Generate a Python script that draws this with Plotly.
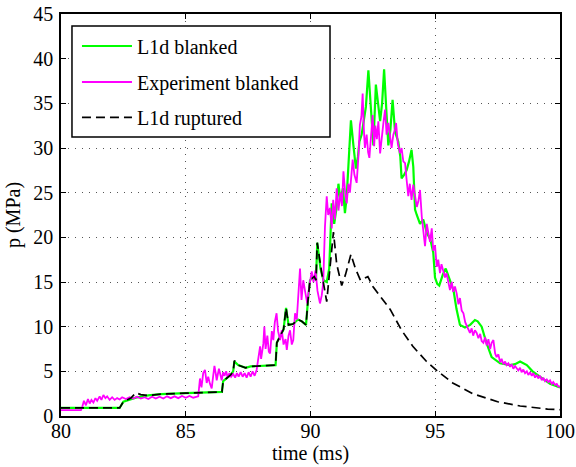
import plotly.graph_objects as go

# L1d blanked (green)
green_t = [80.0, 82.35, 82.5, 83.0, 83.5, 84.0, 85.0, 86.0, 86.45, 86.5, 86.8, 86.9, 86.95, 87.1, 87.4, 87.6,
           88.0, 88.6, 88.65, 88.8, 88.92, 89.02, 89.12, 89.3, 89.5, 89.65, 89.82, 89.9, 89.98, 90.15, 90.22,
           90.27, 90.4, 90.52, 90.65, 90.75, 90.85, 90.95, 91.05, 91.12, 91.2, 91.3, 91.38, 91.45, 91.55, 91.62,
           91.72, 91.82, 91.9, 91.96, 92.05, 92.12, 92.22, 92.32, 92.41, 92.52, 92.62, 92.72, 92.79, 92.87, 92.95,
           93.05, 93.12, 93.2, 93.29, 93.39, 93.52, 93.6, 93.65, 93.75, 93.85, 93.95, 94.05, 94.12, 94.19, 94.26,
           94.39, 94.52, 94.66, 94.8, 94.92, 94.99, 95.08, 95.16, 95.3, 95.42, 95.55, 95.73, 95.85, 95.99, 96.19,
           96.4, 96.59, 96.7, 96.86, 97.05, 97.26, 97.6, 98.0, 98.2, 98.4, 98.67, 98.9, 99.2, 99.6, 100.0]
green_p = [0.9, 0.9, 1.6, 2.05, 2.3, 2.45, 2.55, 2.65, 2.7, 3.9, 4.6, 5.0, 6.1, 5.7, 5.4, 5.55,
           5.6, 5.7, 8.2, 9.1, 9.7, 12.1, 10.2, 10.3, 10.8, 10.6, 10.2, 13.0, 15.2, 15.6, 15.2,
           19.4, 16.5, 15.2, 15.0, 16.5, 23.8, 21.5, 23.4, 26.0, 24.2, 25.5, 22.7, 24.5, 30.5, 33.1,
           30.3, 27.7, 29.0, 30.7, 31.5, 33.0, 34.6, 38.7, 34.5, 30.3, 37.1, 34.5, 33.0, 35.0, 38.8,
           33.7, 30.3, 32.0, 35.4, 31.8, 30.7, 29.0, 26.6, 27.0, 27.5, 28.5, 29.8, 27.9, 23.1, 22.5,
           21.5, 22.0, 20.5, 19.8, 18.3, 15.5, 14.8, 14.6, 15.8, 16.5, 15.5, 14.1, 12.0, 10.2, 9.9,
           10.2, 10.75, 10.6, 10.0, 8.2, 6.6, 5.9, 5.7, 5.8, 6.1, 5.7, 5.0, 4.4, 3.6, 3.2]

# Experiment blanked (magenta)
exp_t = [80.0, 80.8, 80.85, 80.92, 81.0, 81.08, 81.15, 81.22, 81.3, 81.38, 81.45, 81.55, 81.62, 81.7, 81.78,
         81.85, 81.95, 82.05, 82.15, 82.25, 82.35, 82.45, 82.6, 82.75, 82.9, 83.05, 83.2, 83.35, 83.5, 83.65,
         83.8, 83.95, 84.1, 84.25, 84.4, 84.55, 84.7, 84.85, 85.0, 85.15, 85.3, 85.5, 85.57, 85.63, 85.7,
         85.77, 85.84, 85.9, 85.97, 86.04, 86.1, 86.15, 86.2, 86.24, 86.33, 86.4, 86.44, 86.5, 86.55, 86.62,
         86.68, 86.75, 86.82, 86.9, 86.98, 87.05, 87.12, 87.2, 87.28, 87.36, 87.44, 87.52, 87.6, 87.68, 87.76,
         87.84, 87.9, 87.98, 88.02, 88.06, 88.11, 88.15, 88.2, 88.27, 88.33, 88.38, 88.45, 88.51, 88.57, 88.64,
         88.7, 88.78, 88.85, 88.92, 89.0, 89.05, 89.12, 89.18, 89.25, 89.31, 89.38, 89.45, 89.51, 89.58, 89.64,
         89.71, 89.78, 89.87, 89.95, 90.05, 90.12, 90.2, 90.28, 90.38, 90.45, 90.51, 90.58, 90.65, 90.71, 90.78,
         90.85, 90.91, 90.98, 91.05, 91.12, 91.2, 91.26, 91.32, 91.39, 91.45, 91.52, 91.58, 91.64, 91.69, 91.76,
         91.85, 91.92, 91.98, 92.04, 92.09, 92.14, 92.18, 92.25, 92.31, 92.36, 92.42, 92.49, 92.55, 92.6, 92.66,
         92.72, 92.79, 92.86, 92.93, 92.99, 93.05, 93.12, 93.19, 93.25, 93.32, 93.38, 93.43, 93.5, 93.59, 93.65,
         93.72, 93.79, 93.85, 93.92, 93.98, 94.05, 94.12, 94.19, 94.26, 94.32, 94.39, 94.46, 94.52, 94.59, 94.66,
         94.72, 94.79, 94.86, 94.92, 94.99, 95.06, 95.12, 95.19, 95.25, 95.32, 95.39, 95.45, 95.52, 95.59, 95.66,
         95.72, 95.79, 95.86, 95.93, 95.99, 96.06, 96.13, 96.2, 96.27, 96.33, 96.39, 96.46, 96.52, 96.59, 96.66,
         96.73, 96.8, 96.86, 96.93, 97.0, 97.06, 97.13, 97.2, 97.26, 97.33, 97.4, 97.46, 97.53, 97.6, 97.66,
         97.73, 97.8, 97.86, 97.93, 98.0, 98.06, 98.13, 98.2, 98.26, 98.33, 98.4, 98.46, 98.53, 98.6, 98.67,
         98.73, 98.8, 98.87, 98.93, 99.0, 99.07, 99.13, 99.2, 99.27, 99.33, 99.4, 99.47, 99.53, 99.6, 99.67,
         99.73, 99.8, 99.87, 99.93, 100.0]
exp_p = [0.65, 0.65, 1.0, 1.7, 1.2, 1.9, 1.4, 1.8, 1.5, 2.0, 1.7, 2.2, 1.8, 2.35, 2.0,
         2.2, 1.8, 2.1, 1.8, 2.0, 1.85, 2.1, 1.9, 2.1, 1.95, 2.15, 1.95, 2.1, 1.9, 2.15,
         1.95, 2.15, 1.95, 2.2, 2.0, 2.2, 2.0, 2.25, 2.05, 2.25, 2.05, 2.2, 4.2, 3.2, 4.8,
         5.15, 3.7, 4.4, 3.6, 3.1, 4.5, 5.6, 4.8, 4.0, 5.3, 4.4, 4.0, 4.9, 4.5, 5.0,
         4.3, 4.8, 4.4, 4.7, 4.3, 4.8, 4.4, 4.9, 4.4, 4.8, 4.3, 4.9, 4.4, 5.0, 4.5,
         5.15, 6.5, 7.8, 6.4, 7.2, 8.1, 10.0, 7.5, 9.0, 7.2, 7.0, 9.5, 8.5, 10.5, 11.5,
         9.5, 8.5, 9.6, 8.0, 8.6, 7.4, 9.0, 9.6, 8.0, 8.5, 11.5, 10.8, 14.1, 16.5, 13.0,
         15.2, 14.0, 12.6, 14.5, 16.2, 15.0, 16.3, 14.0, 12.6, 13.5, 14.9, 21.2, 24.6, 22.5, 23.3,
         21.0, 24.2, 22.0, 25.5, 23.0, 25.0, 23.5, 27.4, 25.0, 23.8, 26.0, 25.0, 27.0, 28.7, 27.0,
         26.1, 29.0, 32.6, 33.5, 36.1, 32.0, 30.0, 31.5, 29.5, 28.9, 31.5, 33.7, 30.2, 32.5, 31.0,
         33.0, 29.4, 31.5, 33.0, 34.3, 31.5, 32.8, 31.0, 30.0, 31.5, 32.0, 32.8, 30.5, 29.4, 30.0,
         28.5, 28.3, 26.5, 24.6, 26.0, 24.2, 25.9, 24.5, 23.4, 24.0, 25.3, 22.3, 21.0, 19.0, 21.5,
         20.5, 19.5, 21.0, 18.5, 19.1, 16.7, 17.5, 16.0, 17.0, 16.3, 15.5, 16.0, 14.8, 14.1, 15.0,
         13.9, 14.5, 13.7, 12.5, 13.2, 11.8, 11.5, 10.5, 10.0, 9.6, 9.3, 9.8, 9.0, 9.6, 9.3,
         8.7, 9.2, 8.4, 8.2, 8.8, 7.9, 8.6, 7.5, 8.2, 8.5, 7.0, 6.6, 6.9, 6.0, 6.4,
         5.8, 6.1, 5.7, 5.9, 5.5, 5.8, 5.3, 5.6, 5.4, 5.1, 5.4, 4.9, 5.2, 4.8, 5.0,
         4.6, 4.9, 4.5, 4.8, 4.3, 4.6, 4.2, 4.5, 4.0, 4.3, 3.9, 4.1, 3.8, 4.0, 3.6,
         3.8, 3.5, 3.6, 3.3, 3.3]

# L1d ruptured (black dashed)
rup_t = [80.0, 82.35, 82.5, 82.8, 83.0, 83.2, 83.5, 84.0, 85.0, 86.0, 86.45, 86.5, 86.8, 86.9, 86.95, 87.1,
         87.4, 87.6, 88.0, 88.6, 88.65, 88.8, 88.92, 89.02, 89.12, 89.3, 89.5, 89.65, 89.82, 89.9, 89.98,
         90.15, 90.22, 90.27, 90.45, 90.65, 90.8, 90.92, 91.05, 91.25, 91.4, 91.62, 91.8, 92.0, 92.15, 92.3,
         92.5, 92.8, 93.2, 93.65, 94.1, 94.65, 95.1, 95.7, 96.5, 97.5, 98.4, 99.5, 100.0]
rup_p = [0.9, 0.9, 1.6, 2.0, 2.6, 2.4, 2.3, 2.45, 2.55, 2.65, 2.7, 3.9, 4.6, 5.0, 6.2, 5.7,
         5.4, 5.55, 5.6, 5.7, 8.2, 9.1, 9.7, 12.1, 10.2, 10.3, 10.8, 10.6, 10.2, 13.0, 15.2,
         15.6, 15.2, 19.4, 16.0, 12.8, 17.0, 20.6, 17.0, 14.6, 15.8, 18.1, 16.5, 15.2, 15.4, 15.6,
         14.5, 13.4, 11.9, 9.6, 7.8, 6.1, 5.0, 3.7, 2.5, 1.6, 1.12, 0.78, 0.7]

x_ticks = [80, 85, 90, 95, 100]
y_ticks = [0, 5, 10, 15, 20, 25, 30, 35, 40, 45]

FONT = "Liberation Serif, Times New Roman, serif"

fig = go.Figure()
fig.add_trace(go.Scatter(x=green_t, y=green_p, mode="lines", name="L1d blanked",
                         line=dict(color="#00ff00", width=2.2), legend="legend"))
fig.add_trace(go.Scatter(x=exp_t, y=exp_p, mode="lines", name="Experiment blanked",
                         line=dict(color="#ff00ff", width=1.8), legend="legend2"))
fig.add_trace(go.Scatter(x=rup_t, y=rup_p, mode="lines", name="L1d ruptured",
                         line=dict(color="black", width=1.7, dash="9px,5px"), legend="legend3"))

axis_common = dict(
    showline=True, linecolor="black", linewidth=1.5, mirror="ticks",
    ticks="inside", ticklen=5, tickcolor="black", tickwidth=1,
    showgrid=True, gridcolor="#555555", gridwidth=1, griddash="1px,6px",
    zeroline=False, tickfont=dict(family=FONT, size=20, color="black"),
    automargin=False,
)

fig.update_xaxes(range=[80, 100], tickvals=x_ticks, ticklabelstandoff=-4,
                 title=dict(text="time (ms)", font=dict(family=FONT, size=20, color="black"), standoff=4),
                 **axis_common)
fig.update_yaxes(range=[0, 45], tickvals=y_ticks, ticklabelstandoff=2,
                 title=dict(text="p (MPa)", font=dict(family=FONT, size=20, color="black"), standoff=7),
                 **axis_common)

leg_common = dict(xanchor="left", yanchor="top", x=0.032,
                  bgcolor="rgba(0,0,0,0)", borderwidth=0,
                  font=dict(family=FONT, size=20, color="black"), itemwidth=50)

fig.update_layout(
    width=576, height=467,
    margin=dict(l=61, r=16, t=14, b=51, autoexpand=False),
    plot_bgcolor="white", paper_bgcolor="white",
    font=dict(family=FONT, size=20, color="black"),
    legend=dict(y=0.9689, **leg_common),
    legend2=dict(y=0.8794, **leg_common),
    legend3=dict(y=0.7915, **leg_common),
    showlegend=True,
    shapes=[dict(type="rect", xref="paper", yref="paper",
                 x0=0.0220, x1=0.5391, y0=0.6940, y1=0.9701,
                 line=dict(color="black", width=1.5), fillcolor="white", layer="above")],
)

fig.write_html("out.html", config={"displayModeBar": False},
               post_script="document.body.style.margin='0';document.body.style.padding='0';")
